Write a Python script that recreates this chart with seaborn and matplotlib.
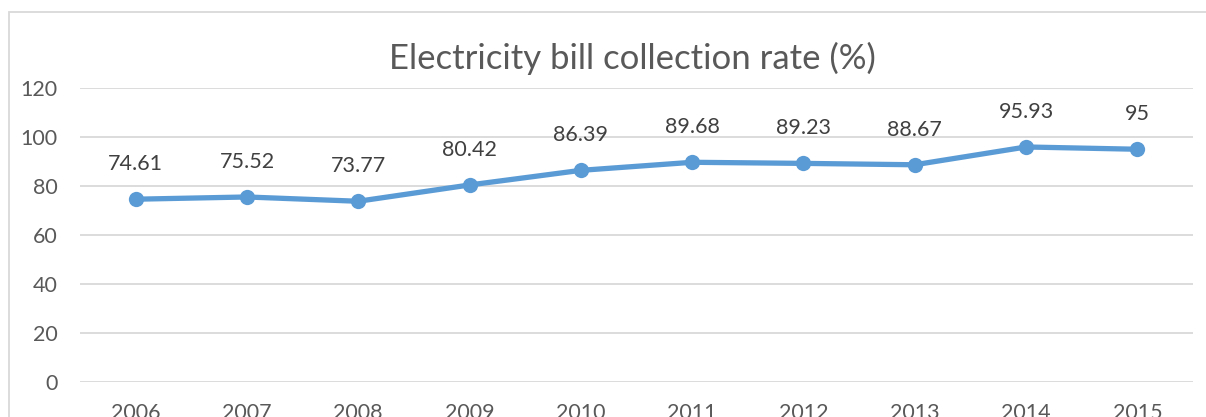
import matplotlib
matplotlib.use("Agg")
import matplotlib.pyplot as plt
import seaborn as sns
import pandas as pd
from matplotlib.patches import Rectangle

years = ["2006", "2007", "2008", "2009", "2010", "2011", "2012", "2013", "2014", "2015"]
rates = [74.61, 75.52, 73.77, 80.42, 86.39, 89.68, 89.23, 88.67, 95.93, 95]
labels = ["74.61", "75.52", "73.77", "80.42", "86.39", "89.68", "89.23", "88.67", "95.93", "95"]
yticks = [0, 20, 40, 60, 80, 100, 120]

df = pd.DataFrame({"year": years, "rate": rates})

sns.set_style("white")
plt.rcParams["font.family"] = ["Lato", "DejaVu Sans"]

W, H = 1206, 417
fig = plt.figure(figsize=(W / 100, H / 100), dpi=100)
# plot area in pixels: x 80..1193, y 88..382
ax = fig.add_axes([80 / W, 1 - 382 / H, (1193 - 80) / W, (382 - 88) / H])

sns.lineplot(data=df, x="year", y="rate", ax=ax, color="#5B9BD5", linewidth=3.8,
             marker="o", markersize=11, markeredgewidth=0, sort=False)

for i, (v, t) in enumerate(zip(rates, labels)):
    ax.annotate(t, (i, v), xytext=(0, 18), textcoords="offset points",
                ha="center", va="bottom", fontsize=15.5, color="#404040")

ax.set_xlim(-0.5, len(years) - 0.5)
ax.set_ylim(0, 120)
ax.set_yticks(yticks)
ax.yaxis.grid(True, color="#D9D9D9", linewidth=1.3)
ax.set_axisbelow(True)
for s in ax.spines.values():
    s.set_visible(False)
ax.tick_params(axis="both", length=0, labelsize=15.5, colors="#595959")
ax.tick_params(axis="y", pad=16)
ax.tick_params(axis="x", pad=15)
ax.set_xlabel("")
ax.set_ylabel("")

fig.text(632 / W, 1 - 58 / H, "Electricity bill collection rate (%)", ha="center",
         va="center", fontsize=25, color="#595959")

# chart border
fig.patches.append(Rectangle((9 / W, -0.1), 1.2, 1 - 12 / H + 0.1, transform=fig.transFigure,
                             fill=False, edgecolor="#D9D9D9", linewidth=1.3))

fig.savefig("out.png", dpi=100)
